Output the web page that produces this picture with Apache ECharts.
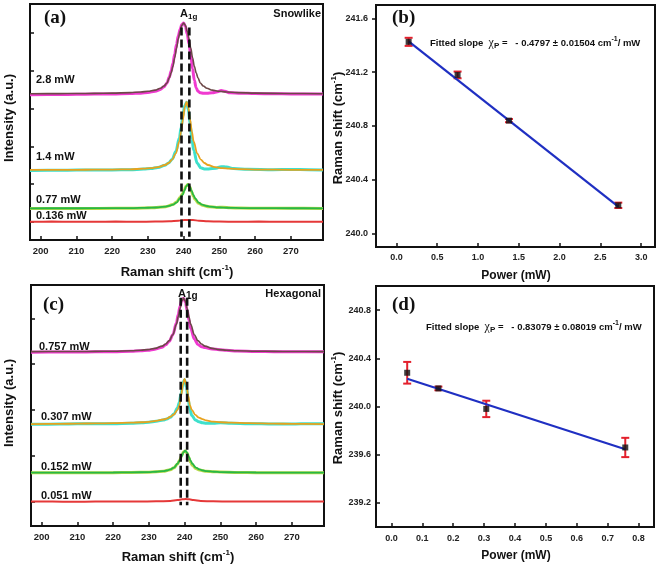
<!DOCTYPE html>
<html><head><meta charset="utf-8">
<script src="https://cdn.jsdelivr.net/npm/echarts@6/dist/echarts.min.js"></script>
<style>html,body{margin:0;padding:0;background:#fff}#c{width:661px;height:567px}</style>
</head><body><div id="c"></div>
<script>
// ---------- DATA ----------
const ramanTicks = [200,210,220,230,240,250,260,270];
const intensityTicksA = [1,2,3,4,5,6];
const intensityTicksC = [1,2,3,4,5];
const powerTicksB = [0,0.5,1,1.5,2,2.5,3];
const shiftTicksB = [240.0,240.4,240.8,241.2,241.6];
const powerTicksD = [0,0.1,0.2,0.3,0.4,0.5,0.6,0.7,0.8];
const shiftTicksD = [239.2,239.6,240.0,240.4,240.8];

// (a) Snowlike spectra: fitted curves and measured points
const fit28 = [[197,4.395],[205,4.398],[210,4.40],[215,4.405],[220,4.41],[225,4.425],[228,4.44],[230,4.46],[232,4.49],[233.5,4.54],[234.5,4.60],[235.35,4.68],[236,4.82],[236.5,4.95],[237,5.12],[237.5,5.35],[238,5.60],[238.5,5.85],[239,6.05],[239.5,6.21],[240,6.27],[240.5,6.21],[241,6.05],[241.5,5.85],[242,5.60],[242.5,5.35],[243,5.12],[243.5,4.95],[244,4.82],[244.65,4.68],[245.5,4.60],[246.5,4.54],[248,4.49],[250,4.46],[252,4.44],[255,4.425],[260,4.41],[270,4.40],[279,4.396]];
const dots28 = [[197,4.37],[205,4.375],[210,4.38],[215,4.385],[220,4.39],[225,4.40],[228,4.41],[230,4.43],[232,4.46],[233.5,4.51],[234.5,4.58],[235.35,4.68],[236,4.84],[236.5,5.00],[237,5.20],[237.5,5.45],[238,5.70],[238.5,5.93],[239,6.10],[239.5,6.23],[240,6.27],[240.5,6.18],[241,5.98],[241.5,5.72],[242,5.40],[242.5,5.05],[243,4.75],[243.5,4.55],[244,4.46],[244.65,4.42],[245.5,4.41],[246.5,4.41],[248,4.42],[249.5,4.45],[250.5,4.48],[251.5,4.46],[253,4.42],[256,4.41],[260,4.40],[265,4.395],[270,4.39],[279,4.39]];
const fit14 = [[197,2.373],[205,2.375],[210,2.376],[215,2.38],[220,2.383],[225,2.39],[228.8,2.406],[230.8,2.42],[232.8,2.448],[234.8,2.504],[235.8,2.558],[236.8,2.647],[237.8,2.81],[238.8,3.13],[239.3,3.39],[239.8,3.715],[240.3,4.035],[240.84,4.18],[241.3,4.035],[241.8,3.715],[242.3,3.39],[242.8,3.13],[243.8,2.81],[244.8,2.647],[245.8,2.558],[246.8,2.504],[248.8,2.448],[250.8,2.42],[252.8,2.406],[256,2.393],[261,2.383],[270,2.376],[279,2.373]];
const dots14 = [[197,2.36],[205,2.365],[210,2.37],[215,2.37],[220,2.375],[225,2.38],[228.8,2.395],[230.8,2.41],[232.8,2.44],[234.8,2.50],[235.8,2.56],[236.8,2.66],[237.8,2.86],[238.8,3.22],[239.3,3.50],[239.8,3.82],[240.3,4.08],[240.84,4.17],[241.3,3.98],[241.8,3.60],[242.3,3.20],[242.8,2.90],[243.8,2.55],[244.8,2.43],[245.8,2.40],[247,2.40],[249,2.42],[250.5,2.46],[252,2.45],[254,2.41],[258,2.39],[265,2.38],[270,2.385],[275,2.38],[279,2.375]];
const fit077 = [[197,1.356],[205,1.357],[211,1.357],[221,1.36],[226,1.363],[229,1.368],[231,1.373],[233,1.382],[235,1.402],[236,1.421],[237,1.452],[238,1.509],[239,1.622],[239.7,1.712],[240.2,1.827],[240.7,1.939],[241.2,1.99],[241.7,1.939],[242.2,1.827],[242.7,1.712],[243.2,1.622],[244.2,1.509],[245.2,1.452],[246.2,1.421],[247.2,1.402],[249.2,1.382],[251.2,1.373],[253.2,1.368],[256,1.363],[261,1.36],[270,1.357],[279,1.356]];
const dots077 = [[197,1.35],[205,1.35],[211,1.352],[221,1.355],[226,1.36],[231,1.37],[235,1.40],[237,1.455],[238,1.52],[239,1.64],[239.7,1.74],[240.2,1.85],[240.7,1.95],[241.2,1.985],[241.7,1.93],[242.2,1.80],[242.7,1.68],[243.2,1.59],[244.2,1.49],[245.2,1.44],[247.2,1.395],[249.2,1.38],[251,1.385],[253,1.37],[256,1.362],[261,1.358],[270,1.355],[279,1.352]];
const fit0136 = [[197,1.0],[203,1.003],[209,0.998],[215,1.0],[221,1.003],[227,1.0],[232,1.004],[236,1.012],[238.5,1.028],[240.2,1.043],[241.4,1.048],[242.6,1.043],[244.3,1.028],[246.8,1.012],[250,1.004],[255,1.0],[261,1.003],[267,0.999],[273,1.001],[279,1.0]];
const dashA = [239.4, 241.6];
const dashARange = [6.15, 0.6];

// (c) Hexagonal spectra
const fit0757 = [[197,4.273],[205,4.275],[210,4.275],[215,4.278],[220,4.282],[225,4.291],[227.7,4.303],[229.7,4.317],[231.7,4.343],[233.7,4.393],[234.7,4.438],[235.7,4.513],[236.7,4.642],[237.7,4.869],[238.2,5.032],[238.7,5.215],[239.2,5.374],[239.66,5.44],[240.2,5.374],[240.7,5.215],[241.2,5.032],[241.7,4.869],[242.7,4.642],[243.7,4.513],[244.7,4.438],[245.7,4.393],[247.7,4.343],[249.7,4.317],[251.7,4.303],[254.7,4.291],[260,4.282],[265,4.277],[270,4.275],[279,4.273]];
const dots0757 = [[197,4.26],[205,4.262],[210,4.265],[215,4.268],[220,4.272],[225,4.28],[227.7,4.29],[229.7,4.30],[231.7,4.325],[233.7,4.37],[234.7,4.42],[235.7,4.50],[236.7,4.64],[237.7,4.90],[238.2,5.08],[238.7,5.26],[239.2,5.40],[239.66,5.44],[240.2,5.36],[240.7,5.18],[241.2,4.96],[241.7,4.78],[242.7,4.55],[243.7,4.43],[244.7,4.38],[245.7,4.36],[247.7,4.33],[249.7,4.315],[251.7,4.30],[254.7,4.285],[260,4.275],[265,4.27],[270,4.27],[279,4.27]];
const fit0307 = [[197,2.69],[205,2.695],[210,2.70],[215,2.705],[220,2.71],[225,2.72],[228,2.73],[230,2.74],[232,2.76],[234,2.79],[235,2.81],[236,2.85],[237,2.90],[238,3.00],[238.5,3.10],[239,3.30],[239.5,3.55],[239.98,3.675],[240.5,3.55],[241,3.30],[241.5,3.10],[242,3.00],[243,2.89],[244,2.83],[245,2.80],[246,2.77],[248,2.745],[250,2.73],[253,2.72],[258,2.71],[265,2.70],[270,2.695],[279,2.69]];
const dots0307 = [[197,2.685],[205,2.69],[210,2.695],[215,2.70],[220,2.70],[225,2.71],[228,2.72],[230,2.73],[232,2.75],[234,2.78],[235,2.80],[236,2.84],[237,2.91],[238,3.04],[238.5,3.16],[239,3.36],[239.5,3.58],[239.98,3.66],[240.5,3.50],[241,3.22],[241.5,3.00],[242,2.88],[243,2.78],[244,2.74],[245,2.72],[246,2.71],[248,2.71],[250,2.72],[253,2.71],[258,2.70],[265,2.69],[270,2.69],[275,2.70],[279,2.70]];
const fit0152 = [[197,1.631],[205,1.631],[210,1.631],[220,1.633],[225,1.636],[230,1.642],[232,1.65],[234,1.664],[235,1.677],[236,1.70],[237,1.741],[238,1.824],[238.6,1.893],[239.15,1.981],[239.65,2.07],[240.15,2.11],[240.65,2.07],[241.15,1.981],[241.65,1.893],[242.15,1.824],[243.15,1.741],[244.15,1.70],[245.15,1.677],[246.15,1.664],[248.15,1.65],[250.15,1.642],[255,1.636],[260,1.633],[270,1.631],[279,1.631]];
const dots0152 = [[197,1.625],[205,1.628],[210,1.63],[220,1.63],[225,1.634],[230,1.64],[234,1.66],[236,1.695],[237,1.735],[238,1.82],[238.6,1.90],[239.15,2.0],[239.65,2.08],[240.15,2.105],[240.65,2.06],[241.15,1.96],[241.65,1.86],[242.15,1.79],[243.15,1.72],[244.15,1.685],[246.15,1.66],[248.15,1.65],[250,1.645],[255,1.635],[260,1.63],[270,1.628],[279,1.63]];
const fit0051 = [[197,1.0],[203,0.998],[209,0.995],[215,0.999],[221,1.002],[227,0.998],[232,1.003],[236,1.012],[238,1.03],[239.3,1.047],[240.28,1.055],[241.3,1.047],[242.5,1.03],[244.5,1.012],[248,1.003],[253,1.0],[259,0.998],[265,1.001],[272,0.999],[279,1.0]];
const dashC = [238.9, 240.7];
const dashCRange = [5.45, 0.92];

// (b) Snowlike peak position vs power
const powerB = [0.15, 0.75, 1.38, 2.72];
const shiftB = [241.426, 241.18, 240.84, 240.21];
const errB = [0.03, 0.025, 0.012, 0.02];
const fitB = [[0.15, 241.43], [2.72, 240.20]];

// (d) Hexagonal peak position vs power
const powerD = [0.051, 0.152, 0.307, 0.757];
const shiftD = [240.28, 240.15, 239.98, 239.66];
const errD = [0.09, 0.015, 0.068, 0.08];
const fitD = [[0.051, 240.23], [0.757, 239.645]];

// ---------- STYLE ----------
const SANS = "'Liberation Sans', Arial, sans-serif";
const SERIF = "'Liberation Serif', 'Times New Roman', serif";
const INK = '#111';

const grids = [
  {left:30, top:4, width:293, height:236},
  {left:376, top:5, width:279, height:242},
  {left:31, top:285, width:293, height:241},
  {left:376, top:286, width:278, height:241}
].map(g => Object.assign({show:true, borderColor:INK, borderWidth:2, containLabel:false}, g));

function xAx(i, min, max, ticks, fmt, fs, margin){
  return {gridIndex:i, type:'value', min, max,
    axisLine:{onZero:false, lineStyle:{color:INK, width:2}},
    axisTick:{inside:true, length:4, customValues:ticks, lineStyle:{color:INK, width:1.5}},
    axisLabel:{customValues:ticks, formatter:fmt, fontSize:fs, fontWeight:'bold', fontFamily:SANS, color:'#222', margin},
    splitLine:{show:false}};
}
function yAx(i, min, max, ticks, showLbl, fmt, inside, margin){
  return {gridIndex:i, type:'value', min, max,
    axisLine:{onZero:false, lineStyle:{color:INK, width:2}},
    axisTick:{inside, length:4, customValues:ticks, lineStyle:{color:INK, width:1.5}},
    axisLabel:{show:showLbl, customValues:ticks, formatter:fmt, fontSize:9, fontWeight:'bold', fontFamily:SANS, color:'#222', margin},
    splitLine:{show:false}};
}
const f1 = v => Number(v).toFixed(1);
const f0 = v => String(v);

function spec(i, data, color, width, z){
  return {type:'line', xAxisIndex:i, yAxisIndex:i, data, smooth:0.35, smoothMonotone:'x',
    symbol:'none', lineStyle:{color, width}, z, silent:true, animation:false};
}
function dash(i, x, range){
  return {type:'line', xAxisIndex:i, yAxisIndex:i, data:[[x, range[0]],[x, range[1]]],
    symbol:'none', lineStyle:{color:INK, width:2.6, type:[8,4]}, z:10, silent:true, animation:false};
}
function errSeries(i, xs, ys, es){
  return {type:'custom', coordinateSystem:'cartesian2d', xAxisIndex:i, yAxisIndex:i,
    encode:{x:0, y:1}, z:3, silent:true, animation:false,
    data: xs.map((x,k)=>[x, ys[k], es[k]]),
    renderItem:(params, api)=>{
      const x = api.value(0), y = api.value(1), e = api.value(2);
      const t = api.coord([x, y+e]), b = api.coord([x, y-e]);
      const w = 4, st = {stroke:'#e3202c', lineWidth:2};
      return {type:'group', children:[
        {type:'line', shape:{x1:t[0],y1:t[1],x2:b[0],y2:b[1]}, style:st},
        {type:'line', shape:{x1:t[0]-w,y1:t[1],x2:t[0]+w,y2:t[1]}, style:st},
        {type:'line', shape:{x1:b[0]-w,y1:b[1],x2:b[0]+w,y2:b[1]}, style:st}
      ]};
    }};
}
function fitLine(i, data){
  return {type:'line', xAxisIndex:i, yAxisIndex:i, data, symbol:'none',
    lineStyle:{color:'#1f2fc2', width:2.2}, z:4, silent:true, animation:false};
}
function pts(i, xs, ys){
  return {type:'scatter', xAxisIndex:i, yAxisIndex:i, data: xs.map((x,k)=>[x, ys[k]]),
    symbol:'rect', symbolSize:6, itemStyle:{color:INK}, z:5, silent:true, animation:false};
}

// ---------- TEXT ----------
function txt(x, y, text, size, align, family){
  return {type:'text', x, y, silent:true, style:{text, fill:INK,
    font:'bold '+size+'px '+(family||SANS), textAlign:align, textVerticalAlign:'middle', align, verticalAlign:'middle'}};
}
function rt(x, y, text, rich, align, rot){
  return {type:'text', x, y, rotation:rot||0, silent:true,
    style:{text, rich, fill:INK, textAlign:align, textVerticalAlign:'middle', align, verticalAlign:'middle'}};
}
const richTitle = {
  t:{fontSize:13, fontWeight:'bold', fontFamily:SANS, color:INK, lineHeight:16},
  s:{fontSize:8, fontWeight:'bold', fontFamily:SANS, color:INK, verticalAlign:'top', lineHeight:9}
};
const ramanTitle = '{t|Raman shift (cm}{s|-1}{t|)}';
const richA1g = {
  a:{fontSize:11, fontWeight:'bold', fontFamily:SANS, color:INK, lineHeight:14},
  s:{fontSize:8, fontWeight:'bold', fontFamily:SANS, color:INK, verticalAlign:'bottom', lineHeight:9}
};
const richA1gC = {
  a:{fontSize:11, fontWeight:'bold', fontFamily:SANS, color:INK, lineHeight:14},
  s:{fontSize:10, fontWeight:'bold', fontFamily:SANS, color:INK, verticalAlign:'bottom', lineHeight:11}
};
const richFit = {
  t:{fontSize:9.5, fontWeight:'bold', fontFamily:SANS, color:INK, lineHeight:14},
  c:{fontSize:12, fontFamily:SERIF, color:INK, lineHeight:14},
  p:{fontSize:8, fontWeight:'bold', fontFamily:SANS, color:INK, verticalAlign:'bottom', lineHeight:8},
  s:{fontSize:7, fontWeight:'bold', fontFamily:SANS, color:INK, verticalAlign:'top', lineHeight:8}
};

const graphics = [
  txt(44, 18, '(a)', 19, 'left', SERIF),
  txt(321, 14, 'Snowlike', 11, 'right'),
  rt(180, 14, '{a|A}{s|1g}', richA1g, 'left'),
  txt(36, 80, '2.8 mW', 11, 'left'),
  txt(36, 157, '1.4 mW', 11, 'left'),
  txt(36, 200, '0.77 mW', 11, 'left'),
  txt(36, 215.5, '0.136 mW', 11, 'left'),
  rt(177, 272, ramanTitle, richTitle, 'center'),
  rt(9, 118, '{t|Intensity (a.u.)}', richTitle, 'center', Math.PI/2),

  txt(392, 18, '(b)', 19, 'left', SERIF),
  rt(430, 43, '{t|Fitted slope  }{c|χ}{p|P}{t| =   - 0.4797 ± 0.01504 cm}{s|-1}{t|/ mW}', richFit, 'left'),
  txt(516, 276, 'Power (mW)', 12, 'center'),
  rt(338, 128, ramanTitle, richTitle, 'center', Math.PI/2),

  txt(43, 305, '(c)', 19, 'left', SERIF),
  txt(321, 294, 'Hexagonal', 11, 'right'),
  rt(178, 294, '{a|A}{s|1g}', richA1gC, 'left'),
  txt(39, 346.5, '0.757 mW', 11, 'left'),
  txt(41, 417, '0.307 mW', 11, 'left'),
  txt(41, 466.5, '0.152 mW', 11, 'left'),
  txt(41, 496, '0.051 mW', 11, 'left'),
  rt(178, 557, ramanTitle, richTitle, 'center'),
  rt(9, 403, '{t|Intensity (a.u.)}', richTitle, 'center', Math.PI/2),

  txt(392, 305, '(d)', 19, 'left', SERIF),
  rt(426, 327, '{t|Fitted slope  }{c|χ}{p|P}{t| =   - 0.83079 ± 0.08019 cm}{s|-1}{t|/ mW}', richFit, 'left'),
  txt(516, 556, 'Power (mW)', 12, 'center'),
  rt(338, 408, ramanTitle, richTitle, 'center', Math.PI/2)
];

const option = {
  animation:false,
  backgroundColor:'#fff',
  grid: grids,
  xAxis: [
    xAx(0, 197, 279, ramanTicks, f0, 9.5, 6),
    xAx(1, -0.25, 3.17, powerTicksB, f1, 9, 6),
    xAx(2, 197, 279, ramanTicks, f0, 9.5, 6),
    xAx(3, -0.05, 0.85, powerTicksD, f1, 9, 7)
  ],
  yAxis: [
    yAx(0, 0.515, 6.775, intensityTicksA, false, f1, true, 6),
    yAx(1, 239.9, 241.7, shiftTicksB, true, f1, false, 8),
    yAx(2, 0.465, 5.727, intensityTicksC, false, f1, true, 6),
    yAx(3, 239.0, 241.0, shiftTicksD, true, f1, true, 5)
  ],
  series: [
    spec(0, dots28, '#f03ad0', 3, 2), spec(0, fit28, '#6d4848', 1.6, 3),
    spec(0, dots14, '#3ee0cc', 3, 2), spec(0, fit14, '#e8a21e', 1.8, 3),
    spec(0, dots077, '#b9d94a', 3, 2), spec(0, fit077, '#27b845', 1.8, 3),
    spec(0, fit0136, '#e53838', 2, 3),
    dash(0, dashA[0], dashARange), dash(0, dashA[1], dashARange),

    errSeries(1, powerB, shiftB, errB), fitLine(1, fitB), pts(1, powerB, shiftB),

    spec(2, dots0757, '#f03ad0', 3, 2), spec(2, fit0757, '#6d4848', 1.6, 3),
    spec(2, dots0307, '#3ee0cc', 3, 2), spec(2, fit0307, '#e8a21e', 1.8, 3),
    spec(2, dots0152, '#b9d94a', 3, 2), spec(2, fit0152, '#27b845', 1.8, 3),
    spec(2, fit0051, '#e53838', 2, 3),
    dash(2, dashC[0], dashCRange), dash(2, dashC[1], dashCRange),

    errSeries(3, powerD, shiftD, errD), fitLine(3, fitD), pts(3, powerD, shiftD)
  ],
  graphic: graphics
};
const chart = echarts.init(document.getElementById('c'), null, {renderer:'canvas'});
chart.setOption(option);
</script>
</body></html>
